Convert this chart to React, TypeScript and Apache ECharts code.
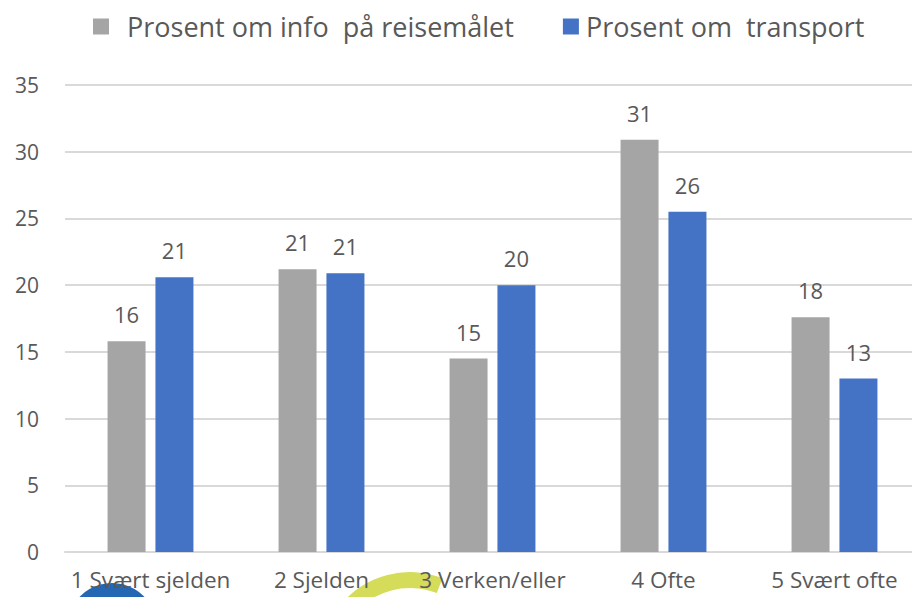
import React, { useEffect, useRef } from "react";
import * as echarts from "echarts";

const categories = ["1 Svært sjelden", "2 Sjelden", "3 Verken/eller", "4 Ofte", "5 Svært ofte"];
const infoValues = [15.8, 21.2, 14.5, 30.9, 17.6];
const transportValues = [20.6, 20.9, 20.0, 25.5, 13.0];
const seriesNames = ["Prosent om info  på reisemålet", "Prosent om  transport"];

const FONT = "'Open Sans', sans-serif";
const TEXT = "#595959";

export default function App() {
  const ref = useRef<HTMLDivElement>(null);
  useEffect(() => {
    if (!ref.current) return;
    const chart = echarts.init(ref.current, undefined, { renderer: "svg" });
    const label = {
      show: true,
      position: "top",
      distance: 16,
      color: TEXT,
      fontSize: 22,
      fontFamily: FONT,
      formatter: (p: any) => String(Math.round(p.value)),
    };
    chart.setOption({
      animation: false,
      backgroundColor: "#ffffff",
      textStyle: { fontFamily: FONT },
      legend: {
        top: 8,
        left: 88,
        itemWidth: 16,
        itemHeight: 16,
        itemGap: 49,
        icon: "rect",
        textStyle: { color: TEXT, fontSize: 27, fontFamily: FONT },
        data: [
          { name: seriesNames[0], textStyle: { padding: [0, 0, 0, 13] } },
          { name: seriesNames[1], textStyle: { padding: [0, 0, 0, 2] } },
        ],
      },
      grid: {
        left: 65,
        top: 85,
        width: 855,
        height: 467,
        outerBoundsMode: "none",
        containLabel: false,
      },
      xAxis: {
        type: "category",
        data: categories,
        axisLine: { show: true, lineStyle: { color: "#d9d9d9", width: 2 } },
        axisTick: { show: false },
        axisLabel: {
          color: TEXT,
          fontSize: 22.5,
          lineHeight: 22,
          fontFamily: FONT,
          margin: 16,
          interval: 0,
        },
      },
      yAxis: {
        type: "value",
        min: 0,
        max: 35,
        interval: 5,
        axisLine: { show: false },
        axisTick: { show: false },
        splitLine: { lineStyle: { color: "#d9d9d9", width: 2 } },
        axisLabel: { color: TEXT, fontSize: 21, fontFamily: FONT, margin: 26 },
      },
      series: [
        {
          name: seriesNames[0],
          type: "bar",
          data: infoValues,
          barWidth: 38,
          barGap: "26%",
          itemStyle: { color: "#a5a5a5" },
          label,
        },
        {
          name: seriesNames[1],
          type: "bar",
          data: transportValues,
          barWidth: 38,
          barGap: "26%",
          itemStyle: { color: "#4472c4" },
          label,
        },
      ],
      graphic: [
        {
          type: "circle",
          z: -10,
          shape: { cx: 112, cy: 628, r: 45 },
          style: { fill: "#2467b3" },
        },
        {
          type: "sector",
          z: -10,
          shape: { cx: 410, cy: 662, r0: 74, r: 90, startAngle: -2.45, endAngle: -1.2, clockwise: true },
          style: { fill: "#d5dc5a" },
        },
      ],
    });
    return () => chart.dispose();
  }, []);
  return (
    <div
      ref={ref}
      style={{ position: "fixed", left: 0, top: 0, width: 912, height: 597, overflow: "hidden" }}
    />
  );
}
